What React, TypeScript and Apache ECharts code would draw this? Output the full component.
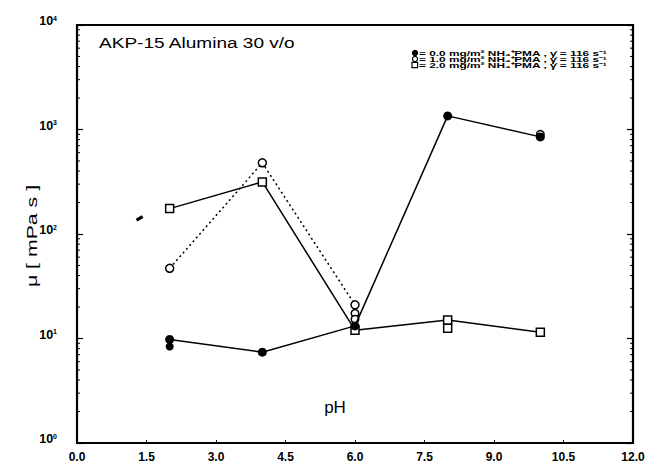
import React, { useEffect, useRef } from "react";
import * as echarts from "echarts";

// ---- data ----
const pH = [2, 4, 6, 8, 10];
const mu00 = [9.8, 7.4, 13.2, 1350, 850]; // filled circles, solid
const pHOpen = [2, 4, 6];
const mu10 = [47, 480, 21]; // open circles, dotted
const mu20 = [175, 315, 12, 15, 11.5]; // open squares, solid
const extra00 = [[2, 8.4]];
const extra10 = [[6, 17.4], [6, 15.3], [10, 900]];
const extra20 = [[8, 12.5]];
const strayMark = [[1.35, 141]];

const xTicks = ["0.0", "1.5", "3.0", "4.5", "6.0", "7.5", "9.0", "10.5", "12.0"];
const minorTickValues = [
  2, 3, 4, 5, 6, 7, 8, 9,
  20, 30, 40, 50, 60, 70, 80, 90,
  200, 300, 400, 500, 600, 700, 800, 900,
  2000, 3000, 4000, 5000, 6000, 7000, 8000, 9000,
];

const title = "AKP-15 Alumina 30 v/o";
const legendMarkers = ["filled", "circle", "square"];
const legendTexts = [
  "= 0.0 mg/m² NH₄⁺PMA , γ̇ = 116 s⁻¹",
  "= 1.0 mg/m² NH₄⁺PMA , γ̇ = 116 s⁻¹",
  "= 2.0 mg/m² NH₄⁺PMA , γ̇ = 116 s⁻¹",
];
const yName = "μ [ mPa s ]";
const xName = "pH";

const FONT = "Liberation Sans, Arial, sans-serif";

export default function App() {
  const ref = useRef<HTMLDivElement>(null);
  useEffect(() => {
    if (!ref.current) return;
    const chart = echarts.init(ref.current, null, { renderer: "svg" });
    const openCircle = {
      color: "#fff",
      borderColor: "#000",
      borderWidth: 1.5,
      opacity: 1,
    };
    const legendY0 = 53;
    const legendDy = 6;
    const legendGraphics: any[] = [];
    legendTexts.forEach((t, i) => {
      const y = legendY0 + i * legendDy;
      const m = legendMarkers[i];
      if (m === "filled") {
        legendGraphics.push({ type: "circle", shape: { cx: 415, cy: y, r: 3.2 }, style: { fill: "#000" } });
      } else if (m === "circle") {
        legendGraphics.push({ type: "circle", shape: { cx: 415, cy: y, r: 2.6 }, style: { fill: "#fff", stroke: "#000", lineWidth: 1.2 } });
      } else {
        legendGraphics.push({ type: "rect", shape: { x: 412, y: y - 2.6, width: 5.6, height: 5.2 }, style: { fill: "#fff", stroke: "#000", lineWidth: 1.2 } });
      }
      legendGraphics.push({
        type: "text",
        x: 419,
        y,
        scaleX: 1.25,
        scaleY: 0.8,
        style: { text: t, font: `bold 9.5px ${FONT}`, fill: "#000", verticalAlign: "middle" },
      });
    });
    const option: any = {
      animation: false,
      backgroundColor: "#fff",
      grid: {
        left: 77,
        right: 27,
        top: 25,
        bottom: 26,
        show: true,
        borderColor: "#000",
        borderWidth: 2.2,
        backgroundColor: "transparent",
      },
      xAxis: {
        type: "value",
        min: 0,
        max: 12,
        interval: 1.5,
        axisLine: { show: false },
        axisTick: { show: true, inside: true, length: 3, lineStyle: { color: "#000", width: 1 } },
        splitLine: { show: false },
        axisLabel: {
          margin: 8,
          color: "#000",
          fontFamily: FONT,
          fontWeight: "bold",
          fontSize: 12,
          formatter: (v: number) => {
            const i = Math.round(v / 1.5);
            return xTicks[i] ?? "";
          },
        },
      },
      yAxis: [
        {
          type: "log",
          logBase: 10,
          min: 1,
          max: 10000,
          axisLine: { show: false },
          axisTick: { show: true, inside: true, length: 6, lineStyle: { color: "#000", width: 1.2 } },
          splitLine: { show: false },
          axisLabel: {
            margin: 20,
            color: "#000",
            verticalAlign: "middle",
            padding: [0, 0, 8, 0],
            formatter: (v: number) => `{b|10}{s|${Math.round(Math.log10(v))}}`,
            rich: {
              b: { fontFamily: FONT, fontWeight: "bold", fontSize: 12.5, color: "#000" },
              s: { fontFamily: FONT, fontWeight: "bold", fontSize: 7, color: "#000", verticalAlign: "top" },
            },
          },
        },
        {
          type: "log",
          logBase: 10,
          min: 1,
          max: 10000,
          position: "right",
          axisLine: { show: false },
          axisTick: { show: true, inside: true, length: 6, lineStyle: { color: "#000", width: 1.2 } },
          splitLine: { show: false },
          axisLabel: { show: false },
        },
      ],
      series: [
        {
          type: "custom",
          name: "minorTicks",
          coordinateSystem: "cartesian2d",
          clip: false,
          silent: true,
          z: 1,
          encode: { x: 0, y: 1 },
          data: minorTickValues.map((v) => [0, v]),
          renderItem: (params: any, api: any) => {
            const v = api.value(1);
            const l = api.coord([0, v]);
            const r = api.coord([12, v]);
            return {
              type: "group",
              children: [
                { type: "line", shape: { x1: l[0], y1: l[1], x2: l[0] + 3, y2: l[1] }, style: { stroke: "#000", lineWidth: 1 } },
                { type: "line", shape: { x1: r[0], y1: r[1], x2: r[0] - 3, y2: r[1] }, style: { stroke: "#000", lineWidth: 1 } },
              ],
            };
          },
        },
        {
          type: "scatter",
          data: strayMark,
          symbol: "rect",
          symbolSize: [7, 3],
          symbolRotate: 30,
          itemStyle: { color: "#000", opacity: 1 },
          z: 2,
        },
        {
          type: "scatter",
          data: extra10,
          symbol: "circle",
          symbolSize: 7.5,
          itemStyle: openCircle,
          z: 3,
        },
        {
          type: "line",
          data: pHOpen.map((x, i) => [x, mu10[i]]),
          symbol: "circle",
          symbolSize: 8,
          showSymbol: true,
          lineStyle: { color: "#000", width: 1.5, type: [2, 3] },
          itemStyle: openCircle,
          z: 4,
        },
        {
          type: "scatter",
          data: extra20,
          symbol: "rect",
          symbolSize: 8,
          itemStyle: openCircle,
          z: 5,
        },
        {
          type: "line",
          data: pH.map((x, i) => [x, mu20[i]]),
          symbol: "rect",
          symbolSize: 8,
          lineStyle: { color: "#000", width: 1.5 },
          itemStyle: openCircle,
          z: 5,
        },
        {
          type: "scatter",
          data: extra00,
          symbol: "circle",
          symbolSize: 8,
          itemStyle: { color: "#000", opacity: 1 },
          z: 6,
        },
        {
          type: "line",
          data: pH.map((x, i) => [x, mu00[i]]),
          symbol: "circle",
          symbolSize: 9,
          lineStyle: { color: "#000", width: 1.5 },
          itemStyle: { color: "#000" },
          z: 7,
        },
      ],
      graphic: [
        {
          type: "text",
          x: 99,
          y: 43,
          scaleX: 1.27,
          style: { text: title, font: `normal 15px ${FONT}`, fill: "#000", verticalAlign: "middle" },
        },
        ...legendGraphics,
        {
          type: "text",
          x: 32,
          y: 236,
          rotation: Math.PI / 2,
          scaleX: 1.42,
          style: { text: yName, font: `normal 15px ${FONT}`, fill: "#000", align: "center", verticalAlign: "middle" },
        },
        {
          type: "text",
          x: 335,
          y: 407,
          style: { text: xName, font: `normal 17px ${FONT}`, fill: "#000", align: "center", verticalAlign: "middle" },
        },
      ],
    };
    chart.setOption(option);
    return () => chart.dispose();
  }, []);
  return <div ref={ref} style={{ width: 660, height: 469, position: "absolute", left: 0, top: 0 }} />;
}
